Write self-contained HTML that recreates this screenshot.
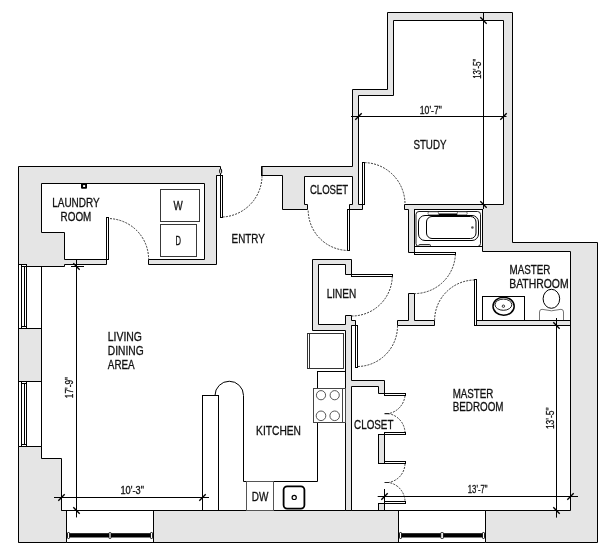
<!DOCTYPE html>
<html><head><meta charset="utf-8">
<style>
html,body{margin:0;padding:0;background:#fff;width:614px;height:549px;overflow:hidden}
svg{display:block;will-change:transform}
.wg{fill:#e5e5e5;stroke:#000;stroke-width:1}
.ww{fill:#fff;stroke:#000;stroke-width:1}
.w{fill:none;stroke:#000;stroke-width:1}
.tn{fill:none;stroke:#000;stroke-width:0.9}
.a{fill:none;stroke:#222;stroke-width:0.9;stroke-dasharray:2 1.2}
.dm{fill:none;stroke:#000;stroke-width:1}
.tk{fill:none;stroke:#000;stroke-width:1.4}
text{font-family:"Liberation Sans",sans-serif;fill:#111;stroke:#111;stroke-width:0.3}
.t{font-size:12px}
.n{font-size:10.5px;stroke-width:0.3}
</style></head><body>
<svg width="614" height="549" viewBox="0 0 614 549" shape-rendering="auto">
<!-- laundry + upper-left wall -->
<path class="wg" d="M18.5,166.5 H220.5 V175.5 H216.5 V264.5 H148.5 V259.5 H204.5 V183.5 H41.5 V232.5 H64.5 V259.5 H106.5 V264.5 H64.5 V266.5 H26.5 V264.5 H18.5 Z"/>
<!-- left wall lines -->
<path class="w" d="M18.5,264 V542.5 M41.5,266 V458.5"/>
<rect class="wg" x="18.5" y="328.5" width="23" height="53"/>
<!-- windows left -->
<rect class="w" x="21.5" y="264.5" width="5" height="64"/>
<path class="w" d="M24.5,266.5 V326.5 M21.5,266.5 H26.5 M21.5,326.5 H26.5"/>
<rect class="w" x="21.5" y="381.5" width="5" height="65"/>
<path class="w" d="M24.5,383.5 V444.5 M21.5,383.5 H26.5 M21.5,444.5 H26.5"/>
<!-- lower-left gray -->
<path class="wg" d="M18.5,446.5 H41.5 V458.5 H61.5 V510.5 H66.5 V542.5 H18.5 Z"/>
<!-- bottom wall -->
<path class="w" d="M61.5,510.5 H570.5 M66.5,542.5 H153.5 M398.5,542.5 H485.5"/>
<rect class="wg" x="153.5" y="510.5" width="245" height="32"/>
<!-- bottom windows -->
<g>
<rect x="67.5" y="533.2" width="84" height="4.3" fill="#000"/>
<rect x="67.5" y="532.5" width="2" height="6" rx="0.6" fill="#fff" stroke="#000" stroke-width="0.8"/>
<rect x="109" y="532.5" width="2" height="6" rx="0.6" fill="#fff" stroke="#000" stroke-width="0.8"/>
<rect x="150.5" y="532.5" width="2" height="6" rx="0.6" fill="#fff" stroke="#000" stroke-width="0.8"/>
<rect x="399.5" y="533.2" width="85" height="4.3" fill="#000"/>
<rect x="399.5" y="532.5" width="2" height="6" rx="0.6" fill="#fff" stroke="#000" stroke-width="0.8"/>
<rect x="440.8" y="532.5" width="2.6" height="6" rx="0.6" fill="#fff" stroke="#000" stroke-width="0.8"/>
<rect x="482.5" y="532.5" width="2" height="6" rx="0.6" fill="#fff" stroke="#000" stroke-width="0.8"/>
</g>
<!-- big right polygon: study, right ext wall, closet -->
<path class="wg" d="M352.5,89.5 H387.5 V12.5 H512.5 V242.5 H597.5 V542.5 H485.5 V510.5 H570.5 V251.5 H482.5 V209.5 H414.5 V252.5 H408.5 V209.5 H404.5 V204.5 H503.5 V20.5 H393.5 V95.5 H358.5 V204.5 H362.5 V209.5 H349.5 V204.5 H352.5 V176.5 H304.5 V204.5 H307.5 V209.5 H282.5 V175.5 H261.5 V166.5 H352.5 Z"/>
<rect x="261" y="166.5" width="1.6" height="9.5" fill="#000"/>
<!-- tub -->
<rect class="w" x="414.5" y="209.5" width="68" height="37"/>
<rect x="416" y="211.5" width="64.5" height="35" rx="3" fill="none" stroke="#000" stroke-width="0.9"/>
<rect x="418.5" y="215.5" width="60" height="25" rx="6.5" fill="none" stroke="#000" stroke-width="1"/>
<rect x="426.5" y="216.5" width="49.5" height="22" rx="5.5" fill="none" stroke="#000" stroke-width="1"/>
<rect x="438.5" y="213.5" width="18.7" height="2.2" fill="#000"/>
<rect x="428" y="211.8" width="10.5" height="3" rx="1.2" fill="#fff" stroke="#000" stroke-width="0.5"/>
<rect x="457.2" y="211.8" width="10" height="3" rx="1.2" fill="#fff" stroke="#000" stroke-width="0.5"/>
<rect x="418.8" y="244.5" width="11.6" height="1.8" rx="0.8" fill="none" stroke="#000" stroke-width="0.8"/>
<circle cx="472.4" cy="227.5" r="1.3" fill="#555"/>
<rect class="ww" x="414.5" y="252.5" width="41" height="2"/>
<path class="w" d="M414.5,246.5 V252.5"/>
<!-- T wall -->
<path class="wg" d="M408.5,293.5 H414.5 V320.5 H434.5 V325.5 H397.5 V320.5 H408.5 Z"/>
<!-- bathroom bottom wall -->
<rect class="wg" x="476.5" y="320.5" width="94" height="5"/>
<rect class="ww" x="474.5" y="279.5" width="2" height="46"/>
<!-- linen + partition + bedroom closet top -->
<path class="wg" d="M312.5,259.5 H351.5 V274.5 H345.5 V264.5 H318.5 V324.5 H345.5 V315.5 H351.5 V320.5 H355.5 V325.5 H351.5 V380.5 H384.5 V393.5 H378.5 V386.5 H351.5 V510.5 H345.5 V330.5 H312.5 Z"/>
<!-- bedroom closet pillars -->
<rect class="wg" x="378.5" y="434.5" width="6" height="29"/>
<rect class="wg" x="378.5" y="503.5" width="6" height="7"/>
<rect class="ww" x="384.5" y="393.5" width="21" height="2"/>
<rect class="ww" x="384.5" y="432.5" width="21" height="2"/>
<rect class="ww" x="384.5" y="461.5" width="21" height="2"/>
<rect class="ww" x="384.5" y="501.5" width="21" height="2"/>
<!-- door slabs -->
<rect class="ww" x="220.5" y="175.5" width="2" height="42"/>
<path class="w" d="M216.5,175.5 H220.5"/>
<rect x="219.7" y="169" width="1.9" height="4.4" rx="0.9" fill="#fff" stroke="#000" stroke-width="1"/>
<rect class="ww" x="106.5" y="217.5" width="2" height="42"/>
<rect class="ww" x="362.5" y="162.5" width="2" height="42"/>
<rect class="ww" x="347.5" y="209.5" width="2" height="41"/>
<rect class="ww" x="351.5" y="274.5" width="41" height="2"/>
<rect class="ww" x="355.5" y="325.5" width="2" height="42"/>
<path class="w" d="M351.5,325.5 H357.5"/>
<!-- door arcs -->
<path class="a" d="M110,218.6 A40.7,40.7 0 0 1 148.6,259.3"/>
<path class="a" d="M222.7,217 A41.5,41.5 0 0 0 262,176.3"/>
<path class="a" d="M348.7,250.5 A40.5,40.5 0 0 1 308.2,209.8"/>
<path class="a" d="M364.6,162.6 A41.5,41.5 0 0 1 405,204.1"/>
<path class="a" d="M392.3,276.5 A40.5,40.5 0 0 1 351.8,316"/>
<path class="a" d="M358,366.5 A40.5,40.5 0 0 0 397.5,326"/>
<path class="a" d="M455.4,254.4 A41,41 0 0 1 414.8,293.6"/>
<path class="a" d="M434.6,320.3 A40.5,40.5 0 0 1 474.4,280"/>
<path class="a" d="M405,395.8 A20.4,20.4 0 0 1 388.5,413.6 A20,20 0 0 1 405,432.2"/>
<path class="a" d="M405,463.8 A19.5,19.5 0 0 1 388.5,482.5 A19.5,19.5 0 0 1 405,501.2"/>
<path class="w" d="M384.5,489 V503.5"/>
<path d="M384.5,413.6 H389 M384.5,482.5 H389" stroke="#222" stroke-width="1.2"/>
<!-- laundry appliances -->
<rect class="w" x="160.5" y="189.5" width="39" height="32" style="stroke:#383838"/>
<rect class="w" x="160.5" y="224.5" width="36" height="32" style="stroke:#383838"/>
<rect x="81" y="183" width="6" height="5.7" rx="1" fill="#000"/><rect x="83.1" y="185.1" width="2" height="1.9" fill="#fff"/>
<!-- kitchen -->
<rect class="w" x="202.5" y="395.5" width="16" height="115"/>
<path class="w" d="M215,395.5 A14.25,14.25 0 0 1 243.5,395.5 V481.5 H317.5 V422.5"/>
<rect class="w" x="307.5" y="333.5" width="36" height="35" style="stroke:#333"/>
<path class="w" d="M309.5,333.5 V368.5" style="stroke:#333"/>
<rect class="w" x="317.5" y="371.5" width="28" height="17"/>
<rect class="w" x="313.5" y="388.5" width="32" height="34" style="stroke:#444"/>
<path class="w" d="M342.5,388.5 V422.5" style="stroke:#444"/>
<g fill="none" stroke="#444" stroke-width="0.9"><circle cx="321" cy="395.2" r="4.6"/><circle cx="334.7" cy="395.2" r="4.6"/><circle cx="321" cy="415.8" r="4.8"/><circle cx="334.7" cy="415.8" r="4.8"/></g>
<rect class="w" x="246.5" y="481.5" width="27" height="29" style="stroke:#555"/>
<rect x="283.6" y="486.3" width="20.8" height="22.3" rx="3.5" fill="none" stroke="#000" stroke-width="1.8"/>
<circle cx="294.2" cy="497.4" r="2.1" fill="none" stroke="#000" stroke-width="1.2"/>
<!-- master bath fixtures -->
<rect class="w" x="482.5" y="296.5" width="42" height="24"/>
<ellipse cx="503.6" cy="306.3" rx="10.6" ry="9" fill="none" stroke="#000" stroke-width="1.5"/>
<ellipse cx="503.4" cy="304.7" rx="8.4" ry="5.6" fill="none" stroke="#000" stroke-width="0.9"/>
<circle cx="503.4" cy="306.2" r="1.2" fill="none" stroke="#000" stroke-width="0.8"/>
<ellipse cx="551.4" cy="298.8" rx="8.3" ry="9.5" fill="none" stroke="#000" stroke-width="1"/>
<path d="M539.5,320 V312 Q539.5,309.3 542,309.3 Q551.4,312.3 561,309.3 Q563.5,309.3 563.5,312 V320" fill="#fff" stroke="#666" stroke-width="0.9"/>
<!-- dimension lines -->
<path class="dm" d="M483.5,12.5 V209 M351,116.5 H506.5 M556.5,318 V517.6 M377.7,496.5 H578 M76.5,259.5 V517.4 M54,497.5 H209 M71,266.5 H84"/>
<path class="tk" d="M480.3,17.3 L486.7,23.7 M480.3,201.3 L486.7,207.7 M355.3,119.7 L361.7,113.3 M500.3,119.7 L506.7,113.3 M553.3,322.3 L559.7,328.7 M553.3,507.3 L559.7,513.7 M381.3,499.7 L387.7,493.3 M567.3,499.7 L573.7,493.3 M73.3,263.3 L79.7,269.7 M73.3,507.3 L79.7,513.7 M58.3,500.7 L64.7,494.3 M199.3,500.7 L205.7,494.3"/>
<!-- texts -->
<text class="t" x="52.2" y="206.7" textLength="47.5" lengthAdjust="spacingAndGlyphs">LAUNDRY</text>
<text class="t" x="60.6" y="220.7" textLength="30.7" lengthAdjust="spacingAndGlyphs">ROOM</text>
<text class="t" x="173.6" y="209.5" textLength="9.2" lengthAdjust="spacingAndGlyphs">W</text>
<text class="t" x="175.5" y="245.1" textLength="5.5" lengthAdjust="spacingAndGlyphs">D</text>
<text class="t" x="231.6" y="242.9" textLength="33.2" lengthAdjust="spacingAndGlyphs">ENTRY</text>
<text class="t" x="309.9" y="193.7" textLength="38.3" lengthAdjust="spacingAndGlyphs">CLOSET</text>
<text class="t" x="413.4" y="148.7" textLength="33.1" lengthAdjust="spacingAndGlyphs">STUDY</text>
<text class="t" x="326.7" y="298.3" textLength="29.6" lengthAdjust="spacingAndGlyphs">LINEN</text>
<text class="t" x="509.5" y="273.7" textLength="40.9" lengthAdjust="spacingAndGlyphs">MASTER</text>
<text class="t" x="509.2" y="287.9" textLength="59.4" lengthAdjust="spacingAndGlyphs">BATHROOM</text>
<text class="t" x="452.7" y="397.7" textLength="40.7" lengthAdjust="spacingAndGlyphs">MASTER</text>
<text class="t" x="452.7" y="411.3" textLength="50.8" lengthAdjust="spacingAndGlyphs">BEDROOM</text>
<text class="t" x="354.1" y="429.4" textLength="39.3" lengthAdjust="spacingAndGlyphs">CLOSET</text>
<text class="t" x="107.8" y="340.9" textLength="34.2" lengthAdjust="spacingAndGlyphs">LIVING</text>
<text class="t" x="107.8" y="355.2" textLength="35.8" lengthAdjust="spacingAndGlyphs">DINING</text>
<text class="t" x="107.8" y="369.1" textLength="26.9" lengthAdjust="spacingAndGlyphs">AREA</text>
<text class="t" x="256.1" y="434.5" textLength="44.9" lengthAdjust="spacingAndGlyphs">KITCHEN</text>
<text class="t" x="251.7" y="500.7" textLength="16.6" lengthAdjust="spacingAndGlyphs">DW</text>
<text class="n" x="419.8" y="113.7" textLength="22.1" lengthAdjust="spacingAndGlyphs">10'-7"</text>
<text class="n" x="467.8" y="492.8" textLength="19.8" lengthAdjust="spacingAndGlyphs">13'-7"</text>
<text class="n" x="120.4" y="494" textLength="23.6" lengthAdjust="spacingAndGlyphs">10'-3"</text>
<text class="n" transform="translate(480.8,78.8) rotate(-90)" x="0" y="0" textLength="20" lengthAdjust="spacingAndGlyphs">13'-5"</text>
<text class="n" transform="translate(553.8,429.1) rotate(-90)" x="0" y="0" textLength="21.6" lengthAdjust="spacingAndGlyphs">13'-5"</text>
<text class="n" transform="translate(73.2,398.2) rotate(-90)" x="0" y="0" textLength="21.2" lengthAdjust="spacingAndGlyphs">17'-9"</text>
</svg>
</body></html>
